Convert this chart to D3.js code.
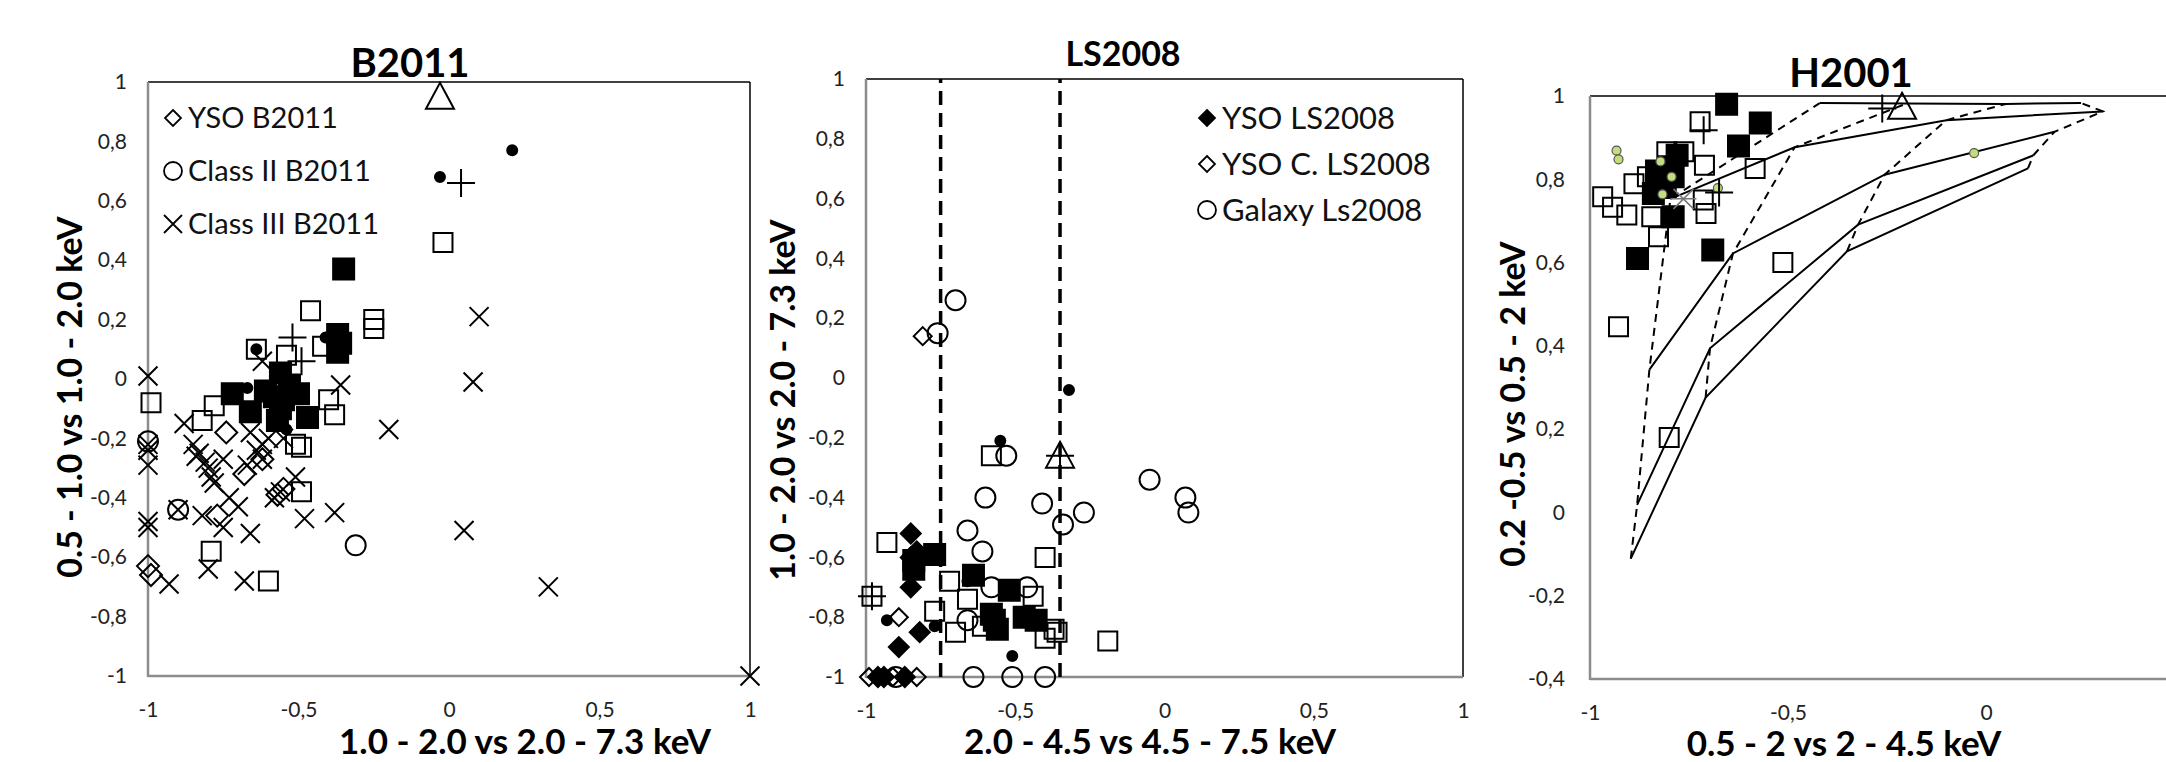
<!DOCTYPE html>
<html>
<head>
<meta charset="utf-8">
<script src="https://d3js.org/d3.v7.min.js"></script>
<style>
  body { margin: 0; background: white; }
  svg { font-family: Lato, 'Open Sans', sans-serif; }
  .tick text { fill: #222; font-size: 21px; }
</style>
</head>
<body>
<svg id="chart" width="2166" height="762"></svg>
<script>
// ---------- B2011 panel ----------
var b11Yso = [[-0.74,-0.18],[-0.68,-0.32],[-0.55,-0.37],[-0.57,-0.39],[-1,-0.63],[-0.99,-0.66],[-0.77,-0.46],[-0.62,-0.27]];
var b11ClassII = [[-1,-0.21],[-0.9,-0.44],[-0.31,-0.56]];
var b11ClassIII = [[-1,0.01],[0.1,0.21],[0.08,-0.01],[-0.2,-0.17],[-0.36,-0.02],[0.05,-0.51],[0.33,-0.7],[1,-1],
  [-0.38,-0.45],[-0.48,-0.47],[-0.66,-0.52],[-0.75,-0.5],[-0.82,-0.46],[-0.93,-0.69],[-0.8,-0.64],[-0.68,-0.68],
  [-1,-0.48],[-1,-0.5],[-1,-0.29],[-1,-0.24],[-0.88,-0.15],[-0.85,-0.22],[-0.83,-0.25],[-0.81,-0.28],[-0.79,-0.33],
  [-0.75,-0.27],[-0.73,-0.4],[-0.7,-0.43],[-0.62,-0.27],[-0.62,-0.22],[-0.66,-0.18],[-0.62,0.06],[-0.56,-0.38],
  [-0.58,-0.4],[-0.51,-0.33],[-0.67,-0.29],[-0.84,-0.26],[-0.8,-0.3],[-0.78,-0.35],[-0.6,-0.2],[-0.64,-0.24],
  [-0.55,-0.2],[-0.9,-0.44],[-1,-0.22]];
var b11OpenSq = [[-0.02,0.46],[-0.46,0.23],[-0.25,0.2],[-0.25,0.17],[-0.64,0.1],[-0.54,0.08],[-0.42,0.11],[-0.4,-0.07],
  [-0.38,-0.12],[-0.99,-0.08],[-0.78,-0.09],[-0.82,-0.14],[-0.51,-0.22],[-0.49,-0.23],[-0.49,-0.38],[-0.79,-0.58],[-0.6,-0.68]];
var b11FilledSq = [[-0.35,0.37],[-0.37,0.15],[-0.37,0.09],[-0.36,0.12],[-0.72,-0.05],[-0.66,-0.11],[-0.61,-0.04],
  [-0.56,0.02],[-0.55,-0.07],[-0.5,-0.05],[-0.47,-0.13],[-0.57,-0.14],[-0.53,-0.02],[-0.56,-0.1],[-0.58,-0.06]];
var b11Dots = [[0.21,0.77],[-0.03,0.68],[-0.64,0.1],[-0.67,-0.03],[-0.41,0.14],[-0.54,-0.17]];
var b11Plus = [[0.04,0.66],[-0.52,0.14],[-0.49,0.06]];
var b11Tri = [[-0.03,0.95]];

// ---------- LS2008 panel ----------
var ls08Yso = [[-0.85,-0.52],[-0.83,-0.58],[-0.85,-0.6],[-0.84,-0.63],[-0.85,-0.7],[-0.82,-0.85],[-0.89,-0.9],
  [-0.94,-1],[-0.87,-1],[-0.96,-1]];
var ls08YsoC = [[-0.81,0.14],[-0.89,-0.8],[-0.99,-1],[-0.83,-1],[-0.91,-1]];
var ls08Galaxy = [[-0.7,0.26],[-0.76,0.15],[-0.53,-0.26],[-0.6,-0.4],[-0.41,-0.42],[-0.27,-0.45],[-0.34,-0.49],
  [-0.05,-0.34],[0.07,-0.4],[0.08,-0.45],[-0.66,-0.51],[-0.61,-0.58],[-0.58,-0.7],[-0.46,-0.7],[-0.66,-0.81],
  [-0.64,-1],[-0.51,-1],[-0.4,-1],[-0.9,-1]];
var ls08FilledSq = [[-0.77,-0.59],[-0.64,-0.66],[-0.52,-0.71],[-0.57,-0.81],[-0.56,-0.84],[-0.47,-0.8],[-0.43,-0.81],
  [-0.84,-0.64],[-0.84,-0.61],[-0.58,-0.79]];
var ls08OpenSq = [[-0.93,-0.55],[-0.98,-0.73],[-0.58,-0.26],[-0.4,-0.6],[-0.72,-0.68],[-0.66,-0.74],[-0.77,-0.78],
  [-0.44,-0.73],[-0.7,-0.85],[-0.61,-0.83],[-0.4,-0.87],[-0.37,-0.84],[-0.36,-0.85],[-0.19,-0.88]];
var ls08Dots = [[-0.32,-0.04],[-0.55,-0.21],[-0.93,-0.81],[-0.77,-0.83],[-0.51,-0.93],[-0.66,-0.68]];
var ls08Plus = [[-0.98,-0.73],[-0.35,-0.26]];
var ls08Tri = [[-0.35,-0.26]];
var ls08Cuts = [-0.75, -0.35];

// ---------- H2001 panel ----------
var h01FilledSq = [[-0.655,0.98],[-0.57,0.935],[-0.625,0.88],[-0.88,0.61],[-0.69,0.63],[-0.79,0.71],[-0.84,0.766],
  [-0.832,0.82],[-0.78,0.858],[-0.82,0.8],[-0.79,0.806],[-0.81,0.78],[-0.8,0.83]];
var h01OpenSq = [[-0.722,0.938],[-0.711,0.834],[-0.583,0.826],[-0.513,0.6],[-0.968,0.758],[-0.943,0.733],[-0.907,0.714],
  [-0.889,0.789],[-0.855,0.806],[-0.844,0.71],[-0.827,0.662],[-0.806,0.866],[-0.763,0.866],[-0.714,0.75],[-0.707,0.718],
  [-0.928,0.446],[-0.8,0.18]];
var h01Plus = [[-0.713,0.918],[-0.674,0.768],[-0.262,0.97]];
var h01Tri = [[-0.212,0.974]];
var h01Green = [[-0.933,0.869],[-0.928,0.848],[-0.822,0.843],[-0.794,0.806],[-0.817,0.764],[-0.677,0.779],[-0.03,0.863]];
var h01Star = [[-0.764,0.753]];
// model grid: each row is one solid curve, dashed curves join the same vertex of each row
var h01Grid = [
  [[-0.897,-0.111],[-0.708,0.276],[-0.351,0.627],[0.106,0.826]],
  [[-0.881,0.018],[-0.697,0.394],[-0.323,0.691],[0.119,0.857]],
  [[-0.85,0.343],[-0.639,0.622],[-0.256,0.811],[0.173,0.914]],
  [[-0.797,0.753],[-0.483,0.877],[-0.1,0.942],[0.295,0.963]],
  [[-0.42,0.983],[-0.2,0.982],[0.05,0.981],[0.24,0.983]]
];

var fmt = function (d) { return String(+d.toFixed(2)).replace('.', ','); };

function shape(type, s) {
  if (type == 'square') return 'M' + -s + ',' + -s + 'H' + s + 'V' + s + 'H' + -s + 'Z';
  if (type == 'diamond') return 'M0,' + -s + 'L' + s + ',0L0,' + s + 'L' + -s + ',0Z';
  if (type == 'tri') return 'M0,' + -s + 'L' + s + ',' + s * 0.85 + 'L' + -s + ',' + s * 0.85 + 'Z';
  if (type == 'x') return 'M' + -s + ',' + -s + 'L' + s + ',' + s + 'M' + s + ',' + -s + 'L' + -s + ',' + s;
  if (type == 'plus') return 'M' + -s + ',0H' + s + 'M0,' + -s + 'V' + s;
  if (type == 'star') return 'M' + -s + ',' + -s + 'L' + s + ',' + s + 'M' + s + ',' + -s + 'L' + -s + ',' + s + 'M' + -s * 1.3 + ',0H' + s * 1.3;
}

var svg = d3.select('#chart');

function drawPanel(p) {
  var x = d3.scaleLinear().domain(p.xDomain).range(p.xRange);
  var y = d3.scaleLinear().domain(p.yDomain).range(p.yRange);
  var g = svg.append('g');

  // box: grey left/bottom, black top/right
  g.append('line').attr('x1', x.range()[0]).attr('x2', p.boxRight).attr('y1', y.range()[1]).attr('y2', y.range()[1])
    .attr('stroke', '#000').attr('stroke-width', 1.5);
  if (p.boxRight < 2166)
    g.append('line').attr('x1', p.boxRight).attr('x2', p.boxRight).attr('y1', y.range()[1]).attr('y2', y.range()[0])
      .attr('stroke', '#000').attr('stroke-width', 1.5);
  g.append('line').attr('x1', x.range()[0]).attr('x2', x.range()[0]).attr('y1', y.range()[1]).attr('y2', y.range()[0] + 1)
    .attr('stroke', '#8c8c8c').attr('stroke-width', 2.5);
  g.append('line').attr('x1', x.range()[0]).attr('x2', p.boxRight).attr('y1', y.range()[0]).attr('y2', y.range()[0])
    .attr('stroke', '#8c8c8c').attr('stroke-width', 2.5);

  g.append('g').attr('transform', 'translate(' + x.range()[0] + ',0)')
    .call(d3.axisLeft(y).tickValues(p.yTicks).tickFormat(fmt).tickSize(0).tickPadding(p.yPad))
    .call(function (a) { a.select('.domain').remove(); });
  g.append('g').attr('transform', 'translate(0,' + y.range()[0] + ')')
    .call(d3.axisBottom(x).tickValues(p.xTicks).tickFormat(fmt).tickSize(0).tickPadding(26))
    .call(function (a) { a.select('.domain').remove(); });
  g.selectAll('.tick text').attr('font-family', 'Lato, sans-serif').attr('font-size', 21);

  // titles
  g.append('text').attr('x', p.title[1]).attr('y', p.title[2]).attr('text-anchor', 'middle')
    .attr('font-weight', 'bold').attr('font-size', p.title[3]).text(p.title[0]);
  g.append('text').attr('x', p.xTitle[1]).attr('y', p.xTitle[2]).attr('text-anchor', 'middle')
    .attr('font-weight', 'bold').attr('font-size', 35).text(p.xTitle[0]);
  g.append('text').attr('transform', 'translate(' + p.yTitle[1] + ',' + p.yTitle[2] + ') rotate(-90)')
    .attr('text-anchor', 'middle').attr('font-weight', 'bold').attr('font-size', 34).text(p.yTitle[0]);

  var plot = g.append('g');
  (p.lines || []).forEach(function (ln) {
    plot.append('path').datum(ln.pts)
      .attr('d', d3.line().x(function (d) { return x(d[0]); }).y(function (d) { return y(d[1]); }))
      .attr('fill', 'none').attr('stroke', '#000').attr('stroke-width', ln.w)
      .attr('stroke-dasharray', ln.dash || null);
  });

  p.series.forEach(function (s) {
    var sel = plot.append('g').selectAll('path').data(s.data).enter();
    if (s.type == 'circle' || s.type == 'dot' || s.type == 'green') {
      sel.append('circle')
        .attr('cx', function (d) { return x(d[0]); })
        .attr('cy', function (d) { return y(d[1]); })
        .attr('r', s.size)
        .attr('fill', s.type == 'dot' ? '#000' : (s.type == 'green' ? '#c3dc7c' : 'none'))
        .attr('stroke', s.type == 'green' ? '#555' : '#000')
        .attr('stroke-width', s.type == 'green' ? 1.2 : 2);
    } else {
      sel.append('path')
        .attr('transform', function (d) { return 'translate(' + x(d[0]) + ',' + y(d[1]) + ')'; })
        .attr('d', shape(s.type, s.size))
        .attr('fill', s.filled ? '#000' : 'none')
        .attr('stroke', s.color || '#000')
        .attr('stroke-width', s.sw || 2);
    }
  });

  // legend
  (p.legend || []).forEach(function (l, i) {
    var ly = p.legendPos[1] + i * p.legendPos[2];
    var lx = p.legendPos[0];
    if (l.type == 'circle')
      g.append('circle').attr('cx', lx).attr('cy', ly).attr('r', 9).attr('fill', 'none').attr('stroke', '#000').attr('stroke-width', 1.8);
    else
      g.append('path').attr('transform', 'translate(' + lx + ',' + ly + ')').attr('d', shape(l.type, l.type == 'x' ? 9 : 8))
        .attr('fill', l.filled ? '#000' : 'none').attr('stroke', '#000').attr('stroke-width', 1.8);
    g.append('text').attr('x', lx + 15).attr('y', ly).attr('dy', '0.36em').attr('font-size', p.legendPos[3])
      .attr('fill', '#111').text(l.label);
  });
  return { x: x, y: y, g: g };
}

var unitTicks = [-1, -0.8, -0.6, -0.4, -0.2, 0, 0.2, 0.4, 0.6, 0.8, 1];

drawPanel({
  xDomain: [-1, 1], xRange: [148, 750], yDomain: [-1, 1], yRange: [676, 82], boxRight: 750,
  xTicks: [-1, -0.5, 0, 0.5, 1], yTicks: unitTicks, yPad: 21,
  title: ['B2011', 410, 77, 40],
  xTitle: ['1.0 - 2.0 vs 2.0 - 7.3 keV', 525, 754],
  yTitle: ['0.5 - 1.0 vs 1.0 - 2.0 keV', 82, 397],
  series: [
    { type: 'x', data: b11ClassIII, size: 9.5 },
    { type: 'diamond', data: b11Yso, size: 11 },
    { type: 'circle', data: b11ClassII, size: 10 },
    { type: 'square', data: b11OpenSq, size: 9.5 },
    { type: 'square', data: b11FilledSq, size: 10.5, filled: true },
    { type: 'dot', data: b11Dots, size: 5 },
    { type: 'plus', data: b11Plus, size: 14 },
    { type: 'tri', data: b11Tri, size: 14 }
  ],
  legend: [{ type: 'diamond', label: 'YSO B2011' }, { type: 'circle', label: 'Class II B2011' }, { type: 'x', label: 'Class III B2011' }],
  legendPos: [173, 118, 53, 29]
});

drawPanel({
  xDomain: [-1, 1], xRange: [866, 1463], yDomain: [-1, 1], yRange: [677, 79], boxRight: 1463,
  xTicks: [-1, -0.5, 0, 0.5, 1], yTicks: unitTicks, yPad: 21,
  title: ['LS2008', 1123, 66, 34],
  xTitle: ['2.0 - 4.5 vs 4.5 - 7.5 keV', 1150, 754],
  yTitle: ['1.0 - 2.0 vs 2.0 - 7.3 keV', 795, 400],
  lines: ls08Cuts.map(function (c) { return { pts: [[c, -1], [c, 1]], w: 3.5, dash: '14,8' }; }),
  series: [
    { type: 'circle', data: ls08Galaxy, size: 10 },
    { type: 'square', data: ls08OpenSq, size: 9.5 },
    { type: 'square', data: ls08FilledSq, size: 10.5, filled: true },
    { type: 'diamond', data: ls08YsoC, size: 9 },
    { type: 'diamond', data: ls08Yso, size: 10, filled: true },
    { type: 'dot', data: ls08Dots, size: 5 },
    { type: 'plus', data: ls08Plus, size: 14 },
    { type: 'tri', data: ls08Tri, size: 14 }
  ],
  legend: [{ type: 'diamond', label: 'YSO LS2008', filled: true }, { type: 'diamond', label: 'YSO C. LS2008' }, { type: 'circle', label: 'Galaxy Ls2008' }],
  legendPos: [1207, 118, 46, 31]
});

var gridLines = h01Grid.map(function (row) { return { pts: row, w: 2 }; })
  .concat(d3.range(4).map(function (k) {
    return { pts: h01Grid.map(function (row) { return row[k]; }), w: 2, dash: '8,6' };
  }));

drawPanel({
  xDomain: [-1, 0], xRange: [1590, 1986], yDomain: [-0.4, 1], yRange: [679, 96], boxRight: 2166,
  xTicks: [-1, -0.5, 0, 0.5], yTicks: [-0.4, -0.2, 0, 0.2, 0.4, 0.6, 0.8, 1], yPad: 25,
  title: ['H2001', 1851, 87, 40],
  xTitle: ['0.5 - 2 vs 2 - 4.5 keV', 1844, 756],
  yTitle: ['0.2 -0.5 vs 0.5 - 2 keV', 1525, 404],
  lines: gridLines,
  series: [
    { type: 'square', data: h01OpenSq, size: 9.5 },
    { type: 'square', data: h01FilledSq, size: 10.5, filled: true },
    { type: 'star', data: h01Star, size: 10, color: '#777', sw: 1.5 },
    { type: 'green', data: h01Green, size: 4.5 },
    { type: 'plus', data: h01Plus, size: 14 },
    { type: 'tri', data: h01Tri, size: 14 }
  ]
});
</script>
</body>
</html>
